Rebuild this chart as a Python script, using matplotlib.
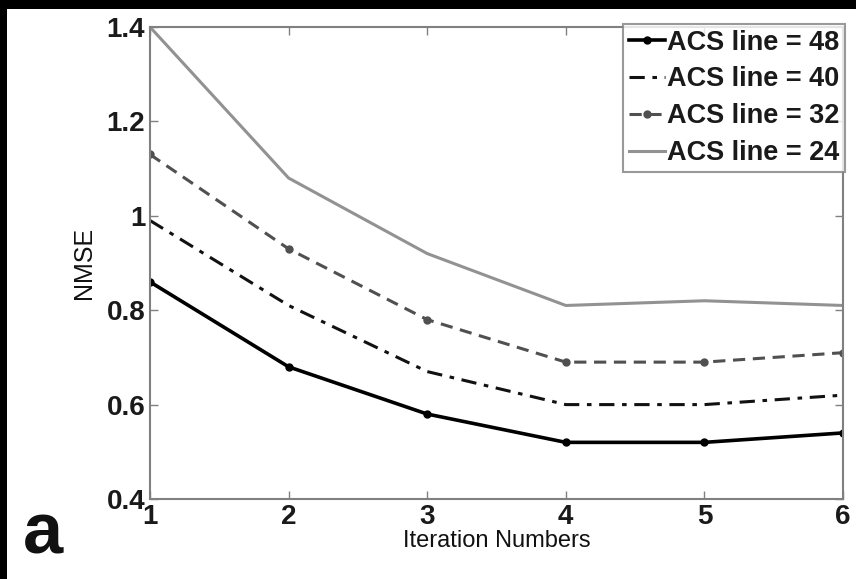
import matplotlib
matplotlib.use("Agg")
import matplotlib.pyplot as plt
from matplotlib.patches import Rectangle

iterations = [1, 2, 3, 4, 5, 6]
acs48 = [0.86, 0.68, 0.58, 0.52, 0.52, 0.54]
acs40 = [0.99, 0.81, 0.67, 0.60, 0.60, 0.62]
acs32 = [1.13, 0.93, 0.78, 0.69, 0.69, 0.71]
acs24 = [1.40, 1.08, 0.92, 0.81, 0.82, 0.81]
labels = ["ACS line = 48", "ACS line = 40", "ACS line = 32", "ACS line = 24"]
xticks = [1, 2, 3, 4, 5, 6]
yticks = [0.4, 0.6, 0.8, 1.0, 1.2, 1.4]
ytick_labels = ["0.4", "0.6", "0.8", "1", "1.2", "1.4"]

plt.rcParams['font.family'] = ['Liberation Sans', 'DejaVu Sans']

W, H = 856, 579
fig = plt.figure(figsize=(W / 100, H / 100), dpi=100, facecolor='white')
# black border strips (left and top)
fig.patches.append(Rectangle((0, 0), 7 / W, 1, transform=fig.transFigure,
                             facecolor='black', edgecolor='none', zorder=-1))
fig.patches.append(Rectangle((0, 1 - 9 / H), 1, 9 / H, transform=fig.transFigure,
                             facecolor='black', edgecolor='none', zorder=-1))

ax = fig.add_axes([150 / W, 1 - 499 / H, (843 - 150) / W, (499 - 27) / H])
ax.set_zorder(2)
ax.set_facecolor('white')

ax.plot(iterations, acs48, color='black', lw=2.6, ls='-', marker='o', ms=5, label=labels[0])
ax.plot(iterations, acs40, color='#111111', lw=2.2, ls=(0, (5, 2.5, 1.5, 2.5)), label=labels[1])
ax.plot(iterations, acs32, color='#505050', lw=2.2, ls=(0, (4, 2.5)), marker='o', ms=5, label=labels[2])
ax.plot(iterations, acs24, color='#929292', lw=2.2, ls='-', label=labels[3])

ax.set_xlim(1, 6)
ax.set_ylim(0.4, 1.4)
ax.set_xticks(xticks)
ax.set_yticks(yticks)
ax.set_yticklabels(ytick_labels)
ax.tick_params(direction='in', top=True, right=True, length=6, width=1, color='#808080',
               labelsize=20, labelcolor='#1a1a1a', pad=3.5)
for lab in ax.get_xticklabels() + ax.get_yticklabels():
    lab.set_fontweight('bold')
for s in ax.spines.values():
    s.set_color('#808080')
    s.set_linewidth(1.5)

ax.set_xlabel("Iteration Numbers", fontsize=17, labelpad=0, color='#111111')
ax.yaxis.set_label_coords((84 - 150) / (843 - 150), (499 - 264) / (499 - 27))
ax.set_ylabel("NMSE", fontsize=18, color='#111111', va='center')

leg = ax.legend(loc='upper right', prop={'size': 19.5, 'weight': 'bold'}, frameon=True,
                fancybox=False, borderaxespad=0, handlelength=1.35, handletextpad=0.08,
                borderpad=0.2, labelspacing=0.4, bbox_to_anchor=(1.003, 1.006))
leg.get_frame().set_edgecolor('#808080')
leg.get_frame().set_linewidth(1.5)
for t in leg.get_texts():
    t.set_color('#1a1a1a')

fig.text(43 / W, 1 - 534 / H, "a", fontsize=52, fontweight='bold', ha='center', va='center',
         color='#111111')

fig.savefig("out.png", dpi=100, facecolor=fig.get_facecolor())
